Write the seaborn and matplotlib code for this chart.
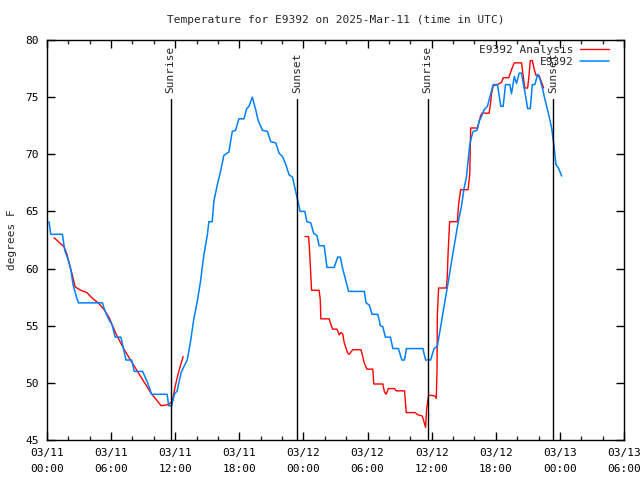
import matplotlib
matplotlib.use("Agg")
import matplotlib.pyplot as plt
import matplotlib.dates as mdates
import seaborn as sns
import pandas as pd

# hours after 2025-03-11 00:00 UTC, temperature in F
obs_hours = [0.19, 0.35, 1.44, 1.66, 1.97, 2.23, 2.44, 2.79, 2.94, 5.19, 5.35, 5.51, 5.82, 6.08,
             6.38, 6.92, 7.16, 7.39, 7.92, 8.17, 8.95, 9.42, 9.79, 11.24, 11.39, 11.67, 11.92,
             12.18, 12.55, 12.8, 13.12, 13.43, 13.74, 14.06, 14.37, 14.68, 15.0, 15.15, 15.46,
             15.62, 15.93, 16.24, 16.55, 17.02, 17.34, 17.65, 17.96, 18.43, 18.69, 18.9, 19.22,
             19.53, 19.75, 20.16, 20.63, 20.94, 21.41, 21.72, 22.04, 22.35, 22.66, 22.98, 23.29,
             23.45, 23.69, 24.13, 24.32, 24.69, 24.95, 25.26, 25.47, 25.94, 26.2, 26.88, 27.2,
             27.45, 27.67, 27.98, 28.23, 29.7, 29.86, 30.17, 30.42, 30.96, 31.2, 31.43, 31.67,
             32.14, 32.37, 32.89, 33.21, 33.46, 33.64, 35.18, 35.43, 35.9, 36.22, 36.53, 36.84,
             37.21, 37.53, 37.84, 38.15, 38.47, 38.78, 39.03, 39.25, 39.56, 39.72, 39.88, 40.25,
             40.44, 40.66, 40.91, 41.22, 41.44, 41.76, 42.16, 42.47, 42.69, 42.91, 43.31, 43.47,
             43.73, 43.94, 44.19, 44.41, 44.57, 44.72, 44.98, 45.23, 45.42, 45.66, 45.92, 46.13,
             46.36, 46.6, 46.92, 47.23, 47.45, 47.63, 47.86, 48.17]
obs_temp = [64.1, 63.0, 63.0, 61.6, 60.8, 59.9, 58.6, 57.4, 57.0, 57.0, 56.5, 56.1, 55.5, 55.1,
            54.0, 54.0, 53.0, 52.0, 52.0, 51.0, 51.0, 50.0, 49.0, 49.0, 48.0, 48.0, 49.0,
            49.3, 50.9, 51.4, 52.0, 53.6, 55.6, 57.1, 58.9, 61.2, 62.9, 64.1, 64.1,
            65.9, 67.3, 68.5, 69.9, 70.2, 72.0, 72.1, 73.1, 73.1, 74.0, 74.2, 75.0,
            73.9, 73.0, 72.1, 72.0, 71.1, 71.0, 70.1, 69.8, 69.1, 68.2, 68.0, 66.7,
            66.0, 65.0, 65.0, 64.1, 64.0, 63.1, 62.9, 62.0, 62.0, 60.1, 60.1, 61.0,
            61.0, 60.0, 58.9, 58.0, 58.0, 57.0, 56.8, 56.0, 56.0, 55.0, 54.9, 54.0,
            54.0, 53.0, 53.0, 52.0, 52.0, 53.0, 53.0, 52.0, 52.0, 53.0, 53.2, 54.9,
            57.0, 58.7, 60.5, 62.2, 64.0, 65.4, 67.0, 68.0, 70.8, 71.5, 72.0, 72.1,
            72.9, 73.3, 73.9, 74.2, 75.0, 76.1, 76.1, 74.2, 74.2, 76.1, 76.1, 75.3,
            76.8, 76.2, 77.1, 77.1, 76.2, 75.5, 74.0, 74.0, 76.1, 76.1, 77.0, 76.6,
            75.8, 74.8, 73.6, 72.3, 70.7, 69.1, 68.8, 68.1]

anl1_hours = [0.66, 1.6, 1.85, 2.38, 2.63, 3.16, 3.73, 4.25, 4.79, 5.35, 5.82, 6.45, 7.23,
              8.01, 8.8, 9.74, 10.68, 11.36, 11.71, 12.02, 12.33, 12.74]
anl1_temp = [62.7, 61.9, 61.3, 59.4, 58.4, 58.1, 57.9, 57.4, 57.0, 56.4, 55.7, 54.3, 52.9,
             51.7, 50.5, 49.1, 48.0, 48.1, 48.35, 49.8, 51.0, 52.3]

anl2_hours = [24.16, 24.48, 24.54, 24.63, 24.76, 25.47, 25.57, 25.63, 26.41, 26.57, 26.73,
              27.14, 27.35, 27.51, 27.67, 27.82, 28.14, 28.29, 28.61, 29.39, 29.55, 29.7,
              29.95, 30.49, 30.58, 31.43, 31.58, 31.74, 31.95, 32.52, 32.68, 33.46, 33.62,
              34.46, 34.71, 35.12, 35.28, 35.43, 35.52, 35.65, 35.71, 36.12, 36.37, 36.43,
              36.5, 36.53, 36.65, 37.37, 37.46, 37.53, 37.68, 38.4, 38.52, 38.71, 39.41,
              39.56, 39.65, 40.28, 40.4, 40.59, 40.72, 41.38, 41.53, 41.6, 41.76, 42.16,
              42.54, 42.69, 43.22, 43.47, 43.73, 44.41, 44.57, 44.72, 44.98, 45.1, 45.23,
              45.42, 45.61, 45.77, 46.05, 46.24, 46.48]
anl2_temp = [62.8, 62.8, 62.1, 60.5, 58.1, 58.1, 57.3, 55.6, 55.6, 55.1, 54.7,
             54.7, 54.2, 54.4, 54.3, 53.5, 52.6, 52.5, 52.9, 52.9, 52.3, 51.7,
             51.2, 51.2, 49.9, 49.9, 49.2, 49.0, 49.5, 49.5, 49.3, 49.3, 47.4,
             47.4, 47.2, 47.1, 46.6, 46.1, 47.6, 48.5, 48.9, 48.9, 48.8, 48.65,
             51.1, 55.9, 58.3, 58.3, 59.3, 61.2, 64.1, 64.1, 65.6, 66.9, 66.9,
             68.2, 72.3, 72.3, 72.7, 73.4, 73.6, 73.6, 74.6, 75.3, 76.0, 76.1,
             76.3, 76.7, 76.7, 77.4, 78.0, 78.0, 76.8, 75.8, 75.8, 76.8, 78.2,
             78.2, 77.4, 76.9, 76.9, 76.4, 75.8]

sun_hours = [11.58, 23.38, 35.62, 47.39]
sun_labels = ["Sunrise", "Sunset", "Sunrise", "Sunset"]

base = pd.Timestamp("2025-03-11 00:00")
def to_time(h):
    return base + pd.to_timedelta(h, unit="h")

sns.set_style("ticks")
plt.rcParams['font.family'] = ['DejaVu Sans Mono']
plt.rcParams['font.size'] = 8
plt.rcParams['xtick.direction'] = 'in'
plt.rcParams['ytick.direction'] = 'in'

fig = plt.figure(figsize=(6.4, 4.8), dpi=100)
ax = fig.add_axes([47/640, 40/480, 577/640, 400/480])

red = '#ff0000'
blue = '#0080ff'
sns.lineplot(x=to_time(anl1_hours), y=anl1_temp, color=red, lw=1, sort=False,
             estimator=None, label='E9392 Analysis', ax=ax)
sns.lineplot(x=to_time(anl2_hours), y=anl2_temp, color=red, lw=1, sort=False,
             estimator=None, ax=ax)
sns.lineplot(x=to_time(obs_hours), y=obs_temp, color=blue, lw=1.1, sort=False,
             estimator=None, label='E9392', ax=ax)

# sunrise / sunset markers
for h, lab in zip(sun_hours, sun_labels):
    t = to_time(h)
    ax.plot([t, t], [45, 74.8], color='black', lw=1)
    ax.text(t, 75.4, lab, rotation=90, ha='center', va='bottom', fontsize=8)

ax.set_xlim(base, to_time(54))
ax.set_ylim(45, 80)
ax.set_yticks(range(45, 81, 5))
ax.xaxis.set_major_locator(mdates.HourLocator(byhour=[0, 6, 12, 18]))
ax.xaxis.set_minor_locator(mdates.HourLocator(byhour=range(0, 24, 2)))
ax.xaxis.set_major_formatter(mdates.DateFormatter('%m/%d\n%H:%M'))
ax.tick_params(which='major', length=6, width=1, top=True, right=True, colors='black', pad=6)
ax.tick_params(which='minor', length=3, width=1, top=True)
for lbl in ax.get_xticklabels():
    lbl.set_linespacing(1.7)
for s in ax.spines.values():
    s.set_visible(True)
    s.set_color('black')
    s.set_linewidth(1)

ax.set_xlabel('')
ax.set_ylabel('degrees F', labelpad=6)
ax.set_title('Temperature for E9392 on 2025-Mar-11 (time in UTC)', fontsize=8, pad=12)

ax.legend(loc='upper right', bbox_to_anchor=(0.988, 1.006), frameon=False, markerfirst=False,
          fontsize=8, handlelength=2.6, borderaxespad=0.3, labelspacing=0.15, handletextpad=0.6)

fig.savefig('out.png', dpi=100)
